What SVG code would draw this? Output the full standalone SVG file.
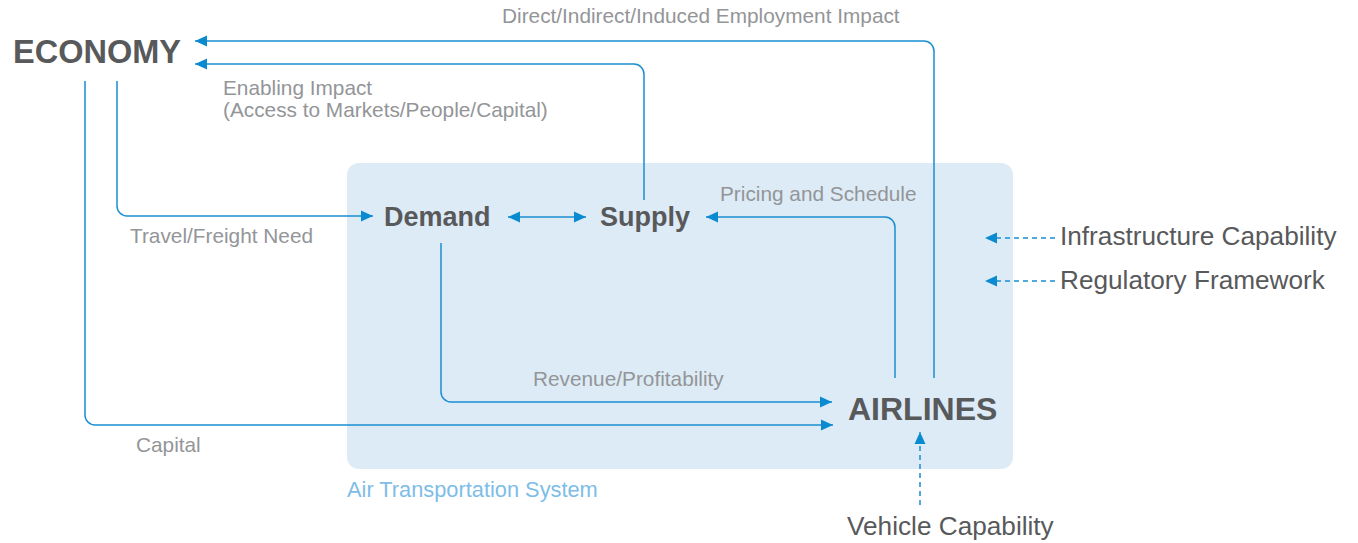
<svg xmlns="http://www.w3.org/2000/svg" width="1358" height="543" viewBox="0 0 1358 543">
<style>
.lbl{font-family:"Liberation Sans",Arial,sans-serif;font-size:20.8px;fill:#939598}
.node{font-family:"Liberation Sans",Arial,sans-serif;font-weight:bold;fill:#58595b}
.ext{font-family:"Liberation Sans",Arial,sans-serif;font-size:26.2px;fill:#58595b}
.ln{fill:none;stroke:#1a8ed1;stroke-width:1.5}
.dash{fill:none;stroke:#1a8ed1;stroke-width:1.5;stroke-dasharray:5 4}
</style>
<defs>
<marker id="ah" markerUnits="userSpaceOnUse" markerWidth="13" markerHeight="12" refX="12" refY="6" orient="auto-start-reverse" viewBox="0 0 13 12">
<path d="M0,0.5 L12,6 L0,11.5 z" fill="#0a8bd0"/>
</marker>
</defs>
<g id="system">
<rect x="347" y="163" width="666" height="306" rx="12" fill="#ddebf6"/>
<text x="347" y="497" style="font-family:'Liberation Sans',Arial,sans-serif;font-size:21.8px;fill:#7dbde8">Air Transportation System</text>
</g>
<g id="connectors">
<path class="ln" d="M934 378 V51 A10 10 0 0 0 924 41 H195" marker-end="url(#ah)"/>
<path class="ln" d="M644 200 V74 A10 10 0 0 0 634 64 H195" marker-end="url(#ah)"/>
<path class="ln" d="M117 81 V206 A10 10 0 0 0 127 216 H373" marker-end="url(#ah)"/>
<path class="ln" d="M85 81 V415 A10 10 0 0 0 95 425 H833" marker-end="url(#ah)"/>
<path class="ln" d="M441 243 V392 A10 10 0 0 0 451 402 H832" marker-end="url(#ah)"/>
<path class="ln" d="M895 378 V227 A10 10 0 0 0 885 217 H706" marker-end="url(#ah)"/>
<path class="ln" d="M508 217 H586" marker-start="url(#ah)" marker-end="url(#ah)"/>
<path class="dash" d="M1055 238 H985" marker-end="url(#ah)"/>
<path class="dash" d="M1055 281 H985" marker-end="url(#ah)"/>
<path class="dash" d="M920 505 V432" marker-end="url(#ah)"/>
<text class="lbl" x="502" y="23">Direct/Indirect/Induced Employment Impact</text>
<text class="lbl" x="223" y="95">Enabling Impact</text>
<text class="lbl" x="223" y="117">(Access to Markets/People/Capital)</text>
<text class="lbl" x="130" y="243">Travel/Freight Need</text>
<text class="lbl" x="720" y="201">Pricing and Schedule</text>
<text class="lbl" x="533" y="386">Revenue/Profitability</text>
<text class="lbl" x="136" y="452">Capital</text>
</g>
<g id="economy"><text class="node" x="13" y="63" font-size="32.5">ECONOMY</text></g>
<g id="demand"><text class="node" x="384" y="226" font-size="27">Demand</text></g>
<g id="supply"><text class="node" x="600" y="226" font-size="27">Supply</text></g>
<g id="airlines"><text class="node" x="848" y="420" font-size="32">AIRLINES</text></g>
<g id="infrastructure"><text class="ext" x="1060" y="245">Infrastructure Capability</text></g>
<g id="regulatory"><text class="ext" x="1060" y="289">Regulatory Framework</text></g>
<g id="vehicle"><text class="ext" x="847" y="535">Vehicle Capability</text></g>
</svg>
